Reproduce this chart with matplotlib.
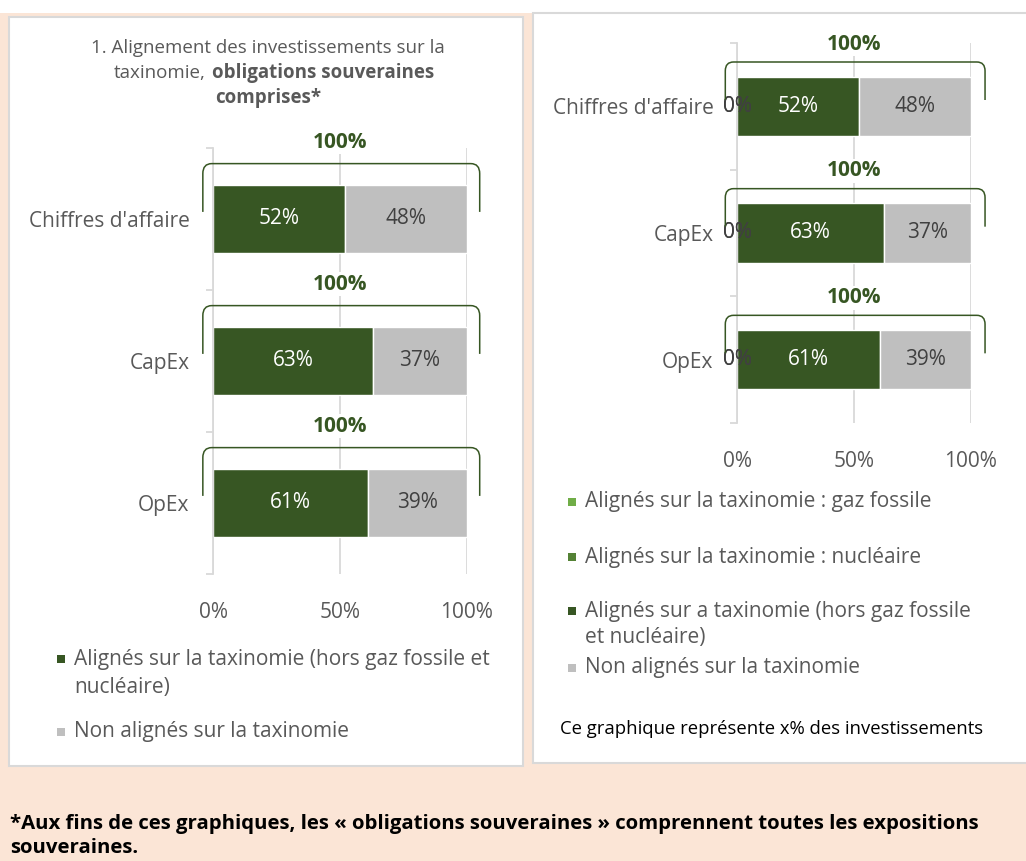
import matplotlib.pyplot as plt
from matplotlib.patches import Rectangle, PathPatch
from matplotlib.path import Path

plt.rcParams['font.family'] = ['Open Sans', 'DejaVu Sans']

# data
categories = ["Chiffres d'affaire", "CapEx", "OpEx"]
aligned_excl = [52, 63, 61]     # alignés (hors gaz fossile et nucléaire)
not_aligned = [48, 37, 39]      # non alignés
gas_fossil = [0, 0, 0]          # right chart only
nuclear = [0, 0, 0]             # right chart only
totals = [100, 100, 100]
x_ticks = [0, 50, 100]
x_tick_labels = ["0%", "50%", "100%"]

W, H = 1026, 861
DARK_GREEN = "#375623"
MID_GREEN = "#548235"
LIGHT_GREEN = "#70AD47"
GREY = "#BFBFBF"
TEXT = "#595959"
GRID = "#D9D9D9"
PEACH = "#FBE5D6"
FS = 15  # base font size

fig = plt.figure(figsize=(W / 100, H / 100), dpi=100)
fig.patch.set_facecolor(PEACH)


def fx(x):
    return x / W


def fy(y):
    return 1 - y / H


def box(x, y, w, h, **kw):
    """rectangle in pixel coords, y measured from the top"""
    fig.add_artist(Rectangle((fx(x), fy(y + h)), w / W, h / H, transform=fig.transFigure, **kw))


# background panels (below the axes)
box(0, 0, W, 13, fc="white", ec="none", zorder=-2)
box(9, 17, 514, 749, fc="white", ec=GRID, lw=1.5, zorder=-1)
box(533, 13, 500, 750, fc="white", ec=GRID, lw=1.5, zorder=-1)


def make_axes(x0, x1, y0, y1):
    ax = fig.add_axes([fx(x0), fy(y1), (x1 - x0) / W, (y1 - y0) / H])
    ax.patch.set_alpha(0)
    ax.set_xlim(0, 100)
    ax.set_ylim(2.5, -0.5)
    for s in ["top", "right", "bottom"]:
        ax.spines[s].set_visible(False)
    ax.spines["left"].set_color(GRID)
    ax.spines["left"].set_linewidth(1.3)
    ax.set_xticks(x_ticks, x_tick_labels)
    ax.tick_params(axis="x", length=0, pad=20, labelsize=FS, labelcolor=TEXT)
    ax.set_yticks(range(len(categories)), categories)
    ax.tick_params(axis="y", which="major", length=0, pad=17, labelsize=FS, labelcolor=TEXT)
    ax.set_yticks([-0.5, 0.5, 1.5, 2.5], minor=True)
    ax.tick_params(axis="y", which="minor", length=5, color=GRID, width=1.3)
    ax.grid(axis="x", color=GRID, lw=1.3)
    ax.set_axisbelow(True)
    return ax


def bracket(ax, yc, x0, x1, top, label_off, total):
    """curly 100% bracket over a bar"""
    rx, ry = 3.5, 0.07
    yt = yc + top
    yl = yc - 0.05
    verts = [(x0, yl), (x0, yt + ry), (x0, yt), (x0 + rx, yt),
             (x1 - rx, yt), (x1, yt), (x1, yt + ry), (x1, yl)]
    codes = [Path.MOVETO, Path.LINETO, Path.CURVE3, Path.CURVE3,
             Path.LINETO, Path.CURVE3, Path.CURVE3, Path.LINETO]
    ax.add_patch(PathPatch(Path(verts, codes), fc="none", ec=DARK_GREEN, lw=1.1, clip_on=False, zorder=4))
    ax.text(total / 2, yc + label_off, f"{total}%", ha="center", va="center", fontsize=FS,
            fontweight="bold", color=DARK_GREEN, zorder=5,
            bbox=dict(fc="white", ec="none", pad=1))


y = list(range(len(categories)))

# ---- left chart
axl = make_axes(213, 467, 148, 574)
b1 = axl.barh(y, aligned_excl, height=0.48, color=DARK_GREEN, edgecolor="white", lw=1)
b2 = axl.barh(y, not_aligned, left=aligned_excl, height=0.48, color=GREY, edgecolor="white", lw=1)
axl.bar_label(b1, labels=[f"{v}%" for v in aligned_excl], label_type="center", color="white", fontsize=FS)
axl.bar_label(b2, labels=[f"{v}%" for v in not_aligned], label_type="center", color="#404040", fontsize=FS)
for i, t in enumerate(totals):
    bracket(axl, i, -4, 105, -0.39, -0.54, t)

# ---- right chart
axr = make_axes(737, 971, 43, 423)
left = [0, 0, 0]
bg = axr.barh(y, gas_fossil, height=0.47, color=LIGHT_GREEN, edgecolor="white", lw=1)
left = [a + b for a, b in zip(left, gas_fossil)]
bn = axr.barh(y, nuclear, left=left, height=0.47, color=MID_GREEN, edgecolor="white", lw=1)
left = [a + b for a, b in zip(left, nuclear)]
ba = axr.barh(y, aligned_excl, left=left, height=0.47, color=DARK_GREEN, edgecolor="white", lw=1)
left = [a + b for a, b in zip(left, aligned_excl)]
bo = axr.barh(y, not_aligned, left=left, height=0.47, color=GREY, edgecolor="white", lw=1)
axr.bar_label(bg, labels=[f"{v}%" for v in gas_fossil], label_type="center", color="#404040", fontsize=FS)
axr.bar_label(bn, labels=[f"{v}%" for v in nuclear], label_type="center", color="#404040", fontsize=FS)
axr.bar_label(ba, labels=[f"{v}%" for v in aligned_excl], label_type="center", color="white", fontsize=FS)
axr.bar_label(bo, labels=[f"{v}%" for v in not_aligned], label_type="center", color="#404040", fontsize=FS)
for i, t in enumerate(totals):
    bracket(axr, i, -5, 106, -0.35, -0.49, t)

# ---- left title (mixed bold)
fig.text(fx(268), fy(48), "1. Alignement des investissements sur la", ha="center", va="center",
         fontsize=13.5, color=TEXT)
fig.text(fx(206), fy(73), "taxinomie,", ha="right", va="center", fontsize=13.5, color=TEXT)
fig.text(fx(212), fy(73), "obligations souveraines", ha="left", va="center", fontsize=13.5,
         color=TEXT, fontweight="bold")
fig.text(fx(268), fy(98), "comprises*", ha="center", va="center", fontsize=13.5, color=TEXT,
         fontweight="bold")


# ---- legends
def legend_item(x, y, color, lines, step=28):
    box(x, y - 4, 8, 8, fc=color, ec="none")
    for k, line in enumerate(lines):
        fig.text(fx(x + 17), fy(y + k * step), line, ha="left", va="center", fontsize=FS, color=TEXT)


legend_item(57, 659, DARK_GREEN, ["Alignés sur la taxinomie (hors gaz fossile et", "nucléaire)"])
legend_item(57, 732, GREY, ["Non alignés sur la taxinomie"])

legend_item(568, 502, LIGHT_GREEN, ["Alignés sur la taxinomie : gaz fossile"])
legend_item(568, 557, MID_GREEN, ["Alignés sur la taxinomie : nucléaire"])
legend_item(568, 611, DARK_GREEN, ["Alignés sur a taxinomie (hors gaz fossile", "et nucléaire)"], step=27)
legend_item(568, 668, GREY, ["Non alignés sur la taxinomie"])

fig.text(fx(560), fy(729), "Ce graphique représente x% des investissements", ha="left", va="center",
         fontsize=13.3, color="black")

# ---- footnote (kept fully inside the picture)
fig.text(fx(10), fy(824), "*Aux fins de ces graphiques, les « obligations souveraines » comprennent toutes les expositions",
         ha="left", va="center", fontsize=14.7, fontweight="bold", color="black")
fig.text(fx(10), fy(848), "souveraines.", ha="left", va="center", fontsize=14.7, fontweight="bold", color="black")

fig.savefig("out.png", dpi=100, facecolor=fig.get_facecolor())
